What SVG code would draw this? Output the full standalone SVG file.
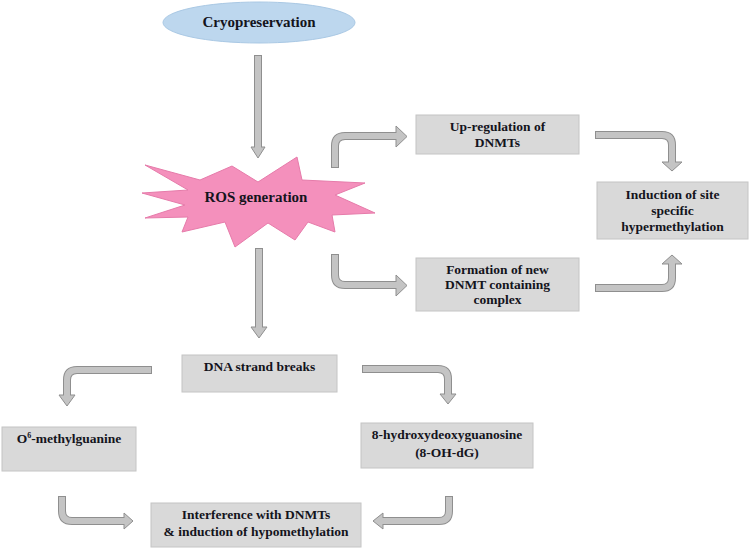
<svg xmlns="http://www.w3.org/2000/svg" width="749" height="548" viewBox="0 0 749 548">
<style>
.box{fill:#D9D9D9;stroke:#C4C4C4;stroke-width:1}
text{font-family:'Liberation Serif','Times New Roman','DejaVu Serif',serif;font-weight:700;font-size:13.5px;fill:#14141c;text-anchor:middle}
.so{fill:none;stroke:#8F8F8F;stroke-width:8}
.si{fill:none;stroke:#C4C4C4;stroke-width:6}
.hd{fill:#C4C4C4;stroke:#8F8F8F;stroke-width:1;stroke-linejoin:miter}
</style>
<rect width="749" height="548" fill="#ffffff"/>
<g id="connectors">
  <g id="c1"><path class="so" d="M258,55 V148"/><polygon class="hd" points="251,147 265,147 258,158"/><path class="si" d="M258,56 V149.5"/></g>
  <g id="c2"><path class="so" d="M259,248 V328"/><polygon class="hd" points="251,327 267,327 259,338"/><path class="si" d="M259,249 V329.5"/></g>
  <g id="c3"><path class="so" d="M335,168 V146 Q335,136 345,136 H397"/><polygon class="hd" points="396,126 396,147 407,136.5"/><path class="si" d="M335,167 V146 Q335,136 345,136 H398.5"/></g>
  <g id="c4"><path class="so" d="M335,254 V275 Q335,285 345,285 H397"/><polygon class="hd" points="396,275 396,296 407,285.5"/><path class="si" d="M335,255 V275 Q335,285 345,285 H398.5"/></g>
  <g id="c5"><path class="so" d="M595,135 H662 Q672,135 672,145 V163"/><polygon class="hd" points="662,162 682,162 672,171"/><path class="si" d="M596,135 H662 Q672,135 672,145 V163.5"/></g>
  <g id="c6"><path class="so" d="M595,288 H662 Q672,288 672,278 V264"/><polygon class="hd" points="662,264 682,264 672,255"/><path class="si" d="M596,288 H662 Q672,288 672,278 V262.5"/></g>
  <g id="c7"><path class="so" d="M152,370 H77 Q67,370 67,380 V396"/><polygon class="hd" points="59,395 75,395 67,406"/><path class="si" d="M151,370 H77 Q67,370 67,380 V396.5"/></g>
  <g id="c8"><path class="so" d="M362,369 H438 Q448,369 448,379 V395"/><polygon class="hd" points="440,394 456,394 448,404"/><path class="si" d="M363,369 H438 Q448,369 448,379 V395.5"/></g>
  <g id="c9"><path class="so" d="M62,496 V511 Q62,521 72,521 H125"/><polygon class="hd" points="124,513 124,529 133,521"/><path class="si" d="M62,497 V511 Q62,521 72,521 H125.5"/></g>
  <g id="c10"><path class="so" d="M449,496 V511 Q449,521 439,521 H382"/><polygon class="hd" points="383,513 383,529 373,521"/><path class="si" d="M449,497 V511 Q449,521 439,521 H381.5"/></g>
</g>
<g id="cryo">
  <ellipse cx="259" cy="22.5" rx="96" ry="20.5" fill="#BDD7EE" stroke="#A9C8E4" stroke-width="1"/>
  <text x="259" y="27" style="font-size:15px">Cryopreservation</text>
</g>
<g id="ros">
  <polygon points="145,165 200,180 232,166 258,182 297,157 302,180 365,183 335,195 375,213 332,215 335,232 308,222 295,240 268,223 235,247 225,222 182,232 188,217 145,218 185,205 142,193 188,190" fill="#F490BC" stroke="#E67BAA" stroke-width="1"/>
  <text x="256" y="202" style="font-size:15px">ROS generation</text>
</g>
<g id="upreg">
  <rect class="box" x="416" y="115" width="163" height="39"/>
  <text x="497.5" y="131">Up-regulation of</text>
  <text x="497.5" y="147">DNMTs</text>
</g>
<g id="formation">
  <rect class="box" x="416" y="258" width="163" height="53"/>
  <text x="497.5" y="274">Formation of new</text>
  <text x="497.5" y="289">DNMT containing</text>
  <text x="497.5" y="304">complex</text>
</g>
<g id="induction">
  <rect class="box" x="597" y="182" width="151" height="57"/>
  <text x="672.5" y="199">Induction of site</text>
  <text x="672.5" y="215">specific</text>
  <text x="672.5" y="231">hypermethylation</text>
</g>
<g id="dna">
  <rect class="box" x="182" y="355" width="155" height="37"/>
  <text x="259.5" y="371">DNA strand breaks</text>
</g>
<g id="o6">
  <rect class="box" x="2" y="427" width="134" height="44"/>
  <text x="69" y="443">O<tspan font-size="8" dy="-5">6</tspan><tspan dy="5">-methylguanine</tspan></text>
</g>
<g id="ohdg">
  <rect class="box" x="361" y="423" width="172" height="45"/>
  <text x="447" y="439">8-hydroxydeoxyguanosine</text>
  <text x="447" y="457">(8-OH-dG)</text>
</g>
<g id="interference">
  <rect class="box" x="151" y="503" width="210" height="44"/>
  <text x="256" y="519">Interference with DNMTs</text>
  <text x="256" y="536">&amp; induction of hypomethylation</text>
</g>
</svg>
